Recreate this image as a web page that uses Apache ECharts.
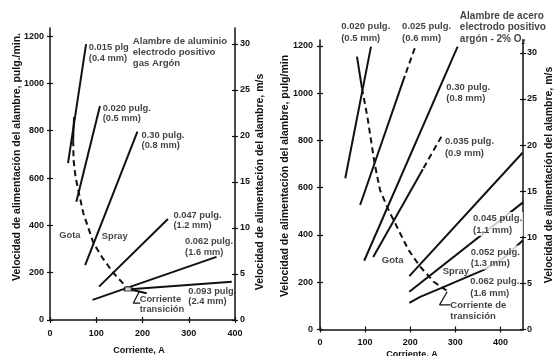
<!DOCTYPE html>
<html><head><meta charset="utf-8">
<script src="https://cdn.jsdelivr.net/npm/echarts@6/dist/echarts.min.js"></script>
<style>html,body{margin:0;padding:0;background:#fff}#c{width:554px;height:356px}</style>
</head><body><div id="c"></div>
<script>
// ================= DATA =================
// tick values
const currentTicks = [0, 100, 200, 300, 400];
const feedTicks = [0, 200, 400, 600, 800, 1000, 1200];
const speedTicks = [0, 5, 10, 15, 20, 25, 30];

// ---- Left chart: aluminium wire, argon (current A, feed pulg/min) ----
const alWire015 = [[39, 663], [78, 1166]];
const alWire020 = [[57, 500], [108, 904]];
const alWire030 = [[76, 232], [189, 796]];
const alWire047 = [[106, 141], [255, 427]];
const alWire062 = [[92, 85], [360, 267]];
const alWire093 = [[166, 129], [393, 162]];
const alTransTop = [[52, 858], [50, 760]];
const alTransDashed = [[50, 760], [51, 676], [55, 608], [61, 549], [72, 452], [94, 325], [115, 258], [137, 199], [169, 131]];
const alTransEnd = [[169, 131], [209, 113]];
const alTransPoint = [[169, 131]];
const alLeader = [[193, 120], [180, 71], [195, 71]];
const alLabels = [
  [84, 1129, '0.015 plg\n(0.4 mm)'],
  [114, 873, '0.020 pulg.\n(0.5 mm)'],
  [198, 759, '0.30 pulg.\n(0.8 mm)'],
  [267, 422, '0.047 pulg.\n(1.2 mm)'],
  [292, 309, '0.062 pulg.\n(1.6 mm)'],
  [299, 101, '0.093 pulg.\n(2.4 mm)'],
  [194, 66, 'Corriente\ntransición'],
  [20, 357, 'Gota'],
  [112, 355, 'Spray']
];
const alTitle = [[179, 1131, 'Alambre de aluminio\nelectrodo positivo\ngas Argón']];

// ---- Right chart: steel wire, argon - 2% O2 ----
const stWire020 = [[56, 640], [113, 1197]];
const stWire025Dashed = [[210, 1190], [188, 1073]];
const stWire025 = [[188, 1073], [89, 527]];
const stWire030 = [[98, 291], [305, 1197]];
const stWire035Dashed = [[269, 816], [228, 678]];
const stWire035 = [[228, 678], [118, 307]];
const stWire045 = [[198, 226], [449, 748]];
const stWire052 = [[198, 160], [450, 538]];
const stWire062 = [[198, 113], [222, 138], [267, 174], [311, 210], [363, 252], [407, 303], [450, 378]];
const stTransTop = [[82, 1155], [93, 1021]];
const stTransDashed = [[93, 1021], [105, 901], [121, 703], [133, 590], [152, 506], [174, 421], [196, 337], [222, 266], [252, 202], [282, 163]];
const stLeader = [[282, 160], [265, 104], [289, 104]];
const stLabels = [
  [47, 1258, '0.020 pulg.\n(0.5 mm)'],
  [182, 1258, '0.025 pulg.\n(0.6 mm)'],
  [280, 1002, '0.30 pulg.\n(0.8 mm)'],
  [277, 770, '0.035 pulg.\n(0.9 mm)'],
  [333, 178, '0.062 pulg.\n(1.6 mm)'],
  [137, 292, 'Gota'],
  [272, 246, 'Spray'],
  [289, 79, 'Corriente de\ntransición']
];
const stMaskedLabels = [
  [337, 446, '0.045 pulg.\n(1.1 mm)'],
  [332, 305, '0.052 pulg.\n(1.3 mm)']
];
const stTitle = [[310, 1277, '{t|Alambre de acero}\n{t|electrodo positivo}\n{t|argón - 2% O}{s|2}']];

// ================= CHART =================
const FONT = '"Liberation Sans", Arial, "DejaVu Sans", sans-serif';
const INK = '#111';

function lineS(data, xi, yi, dashed, w) {
  return {
    type: 'line', data: data, xAxisIndex: xi, yAxisIndex: yi,
    symbol: 'none', silent: true, animation: false, clip: false, z: 3,
    lineStyle: {color: INK, width: w || 2, type: dashed ? [6, 4] : 'solid', cap: 'butt'}
  };
}
function labelS(data, xi, yi, size, lh, bg, z, rich) {
  return {
    type: 'scatter', data: data, xAxisIndex: xi, yAxisIndex: yi,
    symbolSize: 0, silent: true, animation: false, clip: false, z: z,
    label: {
      show: true, position: 'right', distance: 0,
      formatter: p => p.data[2],
      fontFamily: FONT, fontWeight: 'bold', fontSize: size, lineHeight: lh,
      color: INK, align: 'left',
      backgroundColor: bg ? '#fff' : 'transparent', padding: bg ? [1, 1, 0, 1] : 0,
      rich: rich || {}
    }
  };
}
function mainAxis(gi, pos, min, max, ticks, margin) {
  return {
    type: 'value', gridIndex: gi, position: pos, min: min, max: max,
    splitLine: {show: false},
    axisLine: {show: true, onZero: false, lineStyle: {color: INK, width: 1.5}},
    axisTick: {show: true, inside: false, length: 3, customValues: ticks, lineStyle: {color: INK, width: 1.2}},
    axisLabel: {show: true, customValues: ticks, margin: margin, color: INK, fontFamily: FONT, fontWeight: 'bold', fontSize: 9,
                formatter: v => String(v)}
  };
}
function innerAxis(gi, pos, min, max, ticks) {
  return {
    type: 'value', gridIndex: gi, position: pos, min: min, max: max,
    splitLine: {show: false},
    axisLine: {show: false, onZero: false},
    axisTick: {show: true, inside: true, length: 3, customValues: ticks, lineStyle: {color: INK, width: 1.2}},
    axisLabel: {show: false}
  };
}
function vText(x, y, text, rot) {
  return {type: 'text', x: x, y: y, rotation: rot, silent: true,
    style: {text: text, font: 'bold 10.5px ' + FONT, fill: INK, align: 'center', verticalAlign: 'middle', textAlign: 'center', textVerticalAlign: 'middle'}};
}

const chart = echarts.init(document.getElementById('c'), null, {renderer: 'canvas'});

const L_FEED_MAX = 1234, L_SPEED_MAX = 31.74;
const R_FEED_MAX = 1225, R_SPEED_MAX = 31.4;

chart.setOption({
  animation: false,
  backgroundColor: '#fff',
  grid: [
    {left: 50, right: 319, top: 28, bottom: 36},
    {left: 320, right: 31, top: 40, bottom: 26.5}
  ],
  xAxis: [
    mainAxis(0, 'bottom', 0, 400, currentTicks, 9),
    innerAxis(0, 'bottom', 0, 400, currentTicks),
    mainAxis(1, 'bottom', 0, 450, currentTicks, 9),
    innerAxis(1, 'bottom', 0, 450, currentTicks)
  ],
  yAxis: [
    mainAxis(0, 'left', 0, L_FEED_MAX, feedTicks, 6),
    innerAxis(0, 'left', 0, L_FEED_MAX, feedTicks),
    mainAxis(0, 'right', 0, L_SPEED_MAX, speedTicks, 5),
    innerAxis(0, 'right', 0, L_SPEED_MAX, speedTicks),
    mainAxis(1, 'left', 0, R_FEED_MAX, feedTicks, 7),
    innerAxis(1, 'left', 0, R_FEED_MAX, feedTicks),
    mainAxis(1, 'right', 0, R_SPEED_MAX, speedTicks, 4),
    innerAxis(1, 'right', 0, R_SPEED_MAX, speedTicks)
  ],
  graphic: [
    vText(17, 157, 'Velocidad de alimentación del alambre, pulg./min.', Math.PI / 2),
    vText(260, 182, 'Velocidad de alimentación del alambre, m/s', Math.PI / 2),
    vText(285, 176, 'Velocidad de alimentación del alambre, pulg/min', Math.PI / 2),
    vText(549, 175, 'Velocidad de alimentación del alambre, m/s', Math.PI / 2),
    {type: 'text', x: 139, y: 351, silent: true,
     style: {text: 'Corriente, A', font: 'bold 9px ' + FONT, fill: INK, align: 'center', verticalAlign: 'middle', textAlign: 'center', textVerticalAlign: 'middle'}},
    {type: 'text', x: 412, y: 355, silent: true,
     style: {text: 'Corriente, A', font: 'bold 9px ' + FONT, fill: INK, align: 'center', verticalAlign: 'middle', textAlign: 'center', textVerticalAlign: 'middle'}}
  ],
  series: [
    // left chart labels (under lines)
    labelS(alLabels, 0, 0, 9.3, 10.2, false, 2),
    labelS(alTitle, 0, 0, 9.6, 11.2, false, 2),
    lineS(alWire015, 0, 0),
    lineS(alWire020, 0, 0),
    lineS(alWire030, 0, 0),
    lineS(alWire047, 0, 0),
    lineS(alWire062, 0, 0),
    lineS(alWire093, 0, 0),
    lineS(alTransTop, 0, 0, false),
    lineS(alTransDashed, 0, 0, true),
    lineS(alTransEnd, 0, 0, false),
    lineS(alLeader, 0, 0, false, 1.2),
    {type: 'scatter', data: alTransPoint, xAxisIndex: 0, yAxisIndex: 0, silent: true, clip: false, z: 4,
     symbol: 'rect', symbolSize: [7, 4], itemStyle: {color: '#fff', borderColor: INK, borderWidth: 1.3}},
    // right chart
    labelS(stLabels, 2, 4, 9.5, 11.5, false, 2),
    labelS(stTitle, 2, 4, 10, 11.6, false, 2, {
      t: {fontFamily: FONT, fontWeight: 'bold', fontSize: 10, lineHeight: 11.6, color: INK},
      s: {fontFamily: FONT, fontWeight: 'bold', fontSize: 7, lineHeight: 11.6, color: INK, verticalAlign: 'bottom', padding: [4, 0, 0, 0]}
    }),
    lineS(stWire020, 2, 4),
    lineS(stWire025Dashed, 2, 4, true),
    lineS(stWire025, 2, 4),
    lineS(stWire030, 2, 4),
    lineS(stWire035Dashed, 2, 4, true),
    lineS(stWire035, 2, 4),
    lineS(stWire045, 2, 4),
    lineS(stWire052, 2, 4),
    lineS(stWire062, 2, 4),
    lineS(stTransTop, 2, 4, false),
    lineS(stTransDashed, 2, 4, true),
    lineS(stLeader, 2, 4, false, 1.2),
    labelS(stMaskedLabels, 2, 4, 9.5, 11.5, true, 6)
  ]
});
</script>
</body></html>
